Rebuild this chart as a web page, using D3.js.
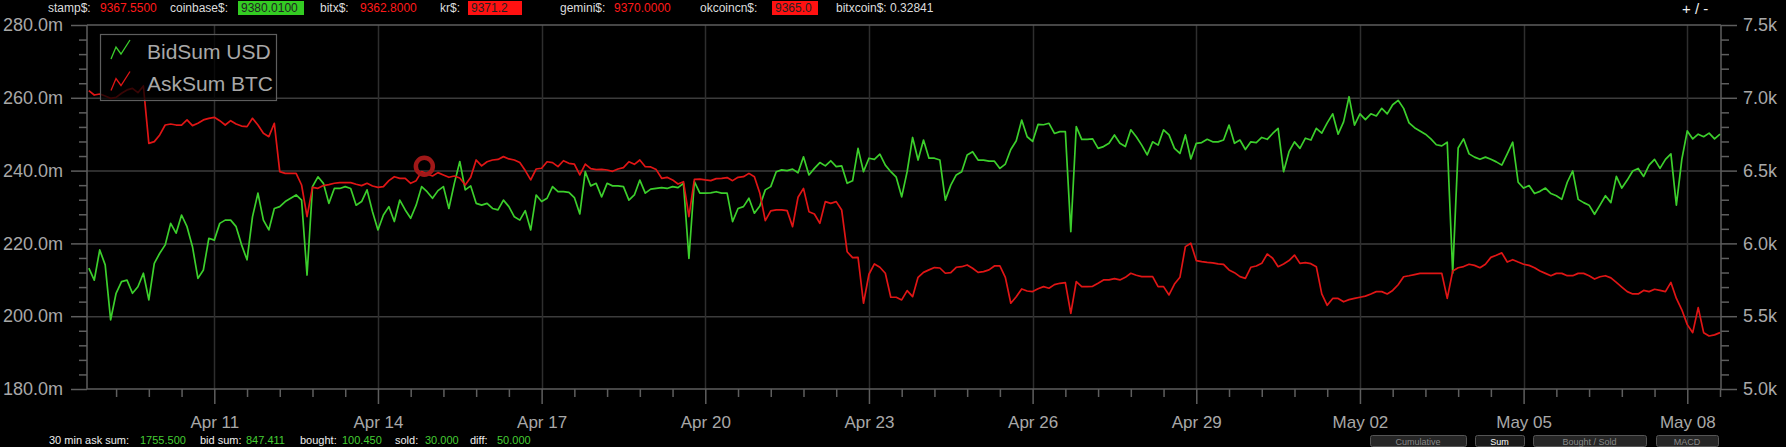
<!DOCTYPE html>
<html><head><meta charset="utf-8">
<script src="https://cdn.jsdelivr.net/npm/d3@7"></script>
<style>
html,body{margin:0;padding:0;background:#000;overflow:hidden}
svg{display:block}
text{font-family:"Liberation Sans",Arial,Helvetica,sans-serif}
</style></head><body>
<svg id="chart" width="1786" height="447"></svg>
<script>
// ---------------- DATA ----------------
const seriesNames = ["BidSum USD", "AskSum BTC"];
const seriesColors = ["#3ccf2c", "#e01515"];
const sampleStart = "2018-04-08T16:48:00Z";
const sampleStepHours = 2.4;

// BidSum USD, millions (left axis)
const bidSumUSD = [
213.2,209.9,218.2,214.1,199.0,206.3,209.5,209.9,206.3,208.1,211.8,204.5,214.5,217.3,219.6,225.5,222.8,227.8,224.6,219.1,
210.4,212.7,221.4,220.9,225.5,226.4,226.4,224.6,219.6,215.5,227.3,233.8,226.4,223.7,229.6,230.1,231.5,232.4,233.3,231.9,
211.3,235.6,238.3,236.5,231.0,235.1,235.1,235.6,235.1,230.5,231.5,234.7,228.7,223.7,227.8,230.1,226.0,231.9,229.2,226.9,
230.5,235.6,234.2,232.4,234.5,235.6,229.6,236.5,242.5,234.7,235.8,231.0,230.5,231.0,229.6,229.2,
231.9,230.1,227.3,226.4,229.0,223.7,233.3,231.5,232.4,235.6,234.2,234.2,234.0,232.6,228.1,239.7,235.8,236.5,232.8,236.5,
235.8,235.8,235.6,231.9,233.3,237.4,233.8,234.9,235.1,235.3,235.1,235.6,235.3,236.5,215.9,237.0,233.8,233.8,233.9,234.2,
233.8,233.8,226.0,229.6,230.1,232.4,228.3,230.3,234.7,235.6,239.7,240.2,240.0,240.4,239.4,243.8,238.8,240.6,242.2,241.3,
242.7,241.1,241.3,236.5,237.2,246.1,239.7,243.4,243.1,244.5,241.5,239.7,238.2,232.8,239.7,
249.1,242.9,248.4,243.4,243.4,242.9,231.9,236.0,238.8,239.7,244.3,245.2,242.9,242.9,242.6,242.6,240.6,241.8,245.8,248.2,
253.9,249.3,248.0,252.7,252.6,253.0,250.2,250.7,250.7,223.2,252.1,248.6,248.6,248.7,246.1,246.6,247.5,249.8,247.5,246.6,
251.2,249.3,247.0,244.3,247.9,247.0,251.2,249.8,246.1,244.7,249.8,243.2,247.5,247.7,248.6,247.9,247.9,248.4,252.5,247.5,
248.4,245.8,247.9,247.7,249.1,248.6,250.2,251.6,239.7,245.2,247.9,246.1,248.9,248.4,251.6,
250.3,253.1,255.6,250.0,253.4,260.3,252.5,255.6,254.0,255.6,255.0,257.1,255.6,258.1,259.3,257.1,253.1,251.8,250.9,250.0,
248.7,247.1,246.8,247.8,211.8,246.2,248.7,244.6,243.7,243.1,243.7,243.1,242.4,241.5,244.6,247.8,236.8,235.2,235.9,233.7,
234.3,235.2,233.7,233.1,232.1,236.8,239.9,232.1,231.2,230.5,228.0,230.5,233.1,231.2,238.4,235.2,237.4,239.9,240.6,238.4,
241.5,243.1,240.6,243.1,244.6,230.5,243.1,250.9,248.7,250.0,249.3,250.3,248.7,250.0
];

// AskSum BTC (right axis)
const askSumBTC = [
7049,7019,7026,7012,6996,7003,7031,7054,7065,7035,7081,6687,6699,6745,6813,6820,6813,6813,6848,6809,
6825,6848,6859,6866,6843,6813,6843,6820,6806,6802,6859,6813,6756,6733,6825,6493,6481,6481,6481,6401,
6184,6385,6378,6397,6404,6413,6417,6417,6417,6406,6397,6413,6394,6385,6390,6431,6458,6447,6447,6413,
6431,6493,6477,6463,6486,6470,6454,6463,6449,6401,6454,6573,6532,6561,6573,6577,
6596,6580,6573,6555,6500,6436,6511,6516,6561,6555,6527,6568,6550,6545,6470,6545,6513,6507,6509,6504,
6495,6511,6520,6561,6543,6573,6527,6525,6507,6447,6454,6436,6408,6424,6184,6440,6442,6436,6431,6445,
6447,6452,6431,6454,6458,6481,6458,6344,6156,6223,6230,6230,6225,6115,6317,6378,6218,6202,6138,6287,
6275,6287,6230,5943,5902,5904,5589,5788,5859,5836,5795,5630,5630,5612,5676,
5634,5767,5801,5818,5834,5831,5795,5799,5836,5840,5852,5829,5801,5806,5818,5845,5845,5767,5589,5634,
5687,5673,5669,5689,5703,5692,5717,5726,5730,5520,5737,5703,5703,5705,5726,5749,5749,5758,5749,5767,
5795,5781,5772,5772,5772,5703,5703,5646,5721,5767,5978,6001,5882,5875,5870,5866,5859,5856,5818,5799,
5772,5760,5836,5845,5863,5927,5898,5840,5859,5882,5920,5863,5868,5861,5840,
5653,5575,5622,5622,5599,5614,5622,5630,5638,5653,5669,5669,5653,5677,5716,5771,5778,5786,5794,5794,
5794,5794,5794,5622,5810,5833,5841,5857,5849,5833,5857,5904,5919,5935,5872,5888,5872,5857,5849,5833,
5810,5794,5778,5794,5794,5778,5778,5794,5794,5778,5755,5771,5778,5763,5732,5700,5669,5653,5653,5677,
5669,5685,5677,5669,5732,5622,5544,5442,5387,5559,5387,5364,5372,5387
];

const xTickDates = ["2018-04-11","2018-04-14","2018-04-17","2018-04-20","2018-04-23","2018-04-26",
                    "2018-04-29","2018-05-02","2018-05-05","2018-05-08"];
const xDomain = ["2018-04-08T16:00:00Z", "2018-05-08T14:50:00Z"];
const leftTicks = [180, 200, 220, 240, 260, 280];
const rightTicks = [5000, 5500, 6000, 6500, 7000, 7500];
const hoverPoint = {time: "2018-04-14T20:24:00Z", value: 6530};

const headerLabels = ["stamp$:", "coinbase$:", "bitx$:", "kr$:", "gemini$:", "okcoincn$:", "bitxcoin$: 0.32841"];
const headerValues = ["9367.5500", "9380.0100", "9362.8000", "9371.2", "9370.0000", "9365.0", ""];
const headerValueStyles = ["red", "greenbox", "red", "redbox", "red", "redbox", "none"];
const footerLabels = ["30 min ask sum:", "bid sum:", "bought:", "sold:", "diff:"];
const footerValues = ["1755.500", "847.411", "100.450", "30.000", "50.000"];
const buttonLabels = ["Cumulative", "Sum", "Bought / Sold", "MACD"];

// ---------------- CHART ----------------
const W = 1786, H = 447;
const M = {left: 87, right: 1721, top: 25, bottom: 389};
const svg = d3.select("#chart");
svg.append("rect").attr("width", W).attr("height", H).attr("fill", "#000");

const iso = d3.utcParse("%Y-%m-%dT%H:%M:%SZ");
const dayP = d3.utcParse("%Y-%m-%d");
const x = d3.scaleUtc().domain(xDomain.map(iso)).range([M.left, M.right]);
const yL = d3.scaleLinear().domain([180, 280]).range([M.bottom, M.top]);
const yR = d3.scaleLinear().domain([5000, 7500]).range([M.bottom, M.top]);

const t0 = iso(sampleStart).getTime();
const stepMs = sampleStepHours * 3600e3;
const bidData = bidSumUSD.map((v, i) => ({t: new Date(t0 + i * stepMs), v}));
const askData = askSumBTC.map((v, i) => ({t: new Date(t0 + i * stepMs), v}));
const majorDates = xTickDates.map(dayP);

// grid
const grid = svg.append("g");
grid.selectAll(".hg").data(leftTicks.slice(1, -1)).join("line")
  .attr("x1", M.left).attr("x2", M.right)
  .attr("y1", d => yL(d) + 0.5).attr("y2", d => yL(d) + 0.5)
  .attr("stroke", "#3c3c3c").attr("stroke-width", 1.5);
grid.selectAll(".vg").data(majorDates).join("line")
  .attr("x1", d => Math.round(x(d)) + 0.5).attr("x2", d => Math.round(x(d)) + 0.5)
  .attr("y1", M.top).attr("y2", M.bottom)
  .attr("stroke", "#2e2e2e").attr("stroke-width", 1.5);

// frame
const frame = svg.append("g").attr("stroke", "#5e5e5e").attr("stroke-width", 1.5);
frame.append("line").attr("x1", M.left).attr("x2", M.right).attr("y1", M.top).attr("y2", M.top);
frame.append("line").attr("x1", M.left).attr("x2", M.right).attr("y1", M.bottom).attr("y2", M.bottom);
frame.append("line").attr("x1", M.left).attr("x2", M.left).attr("y1", M.top).attr("y2", M.bottom);
frame.append("line").attr("x1", M.right).attr("x2", M.right).attr("y1", M.top).attr("y2", M.bottom);

// axes
function styleAxis(g, size) {
  g.select(".domain").remove();
  g.selectAll(".tick line").attr("stroke", "#5e5e5e").attr("stroke-width", 1.5);
  g.selectAll(".tick text").attr("fill", "#a8a8a8").attr("font-size", size)
    .attr("font-family", '"Liberation Sans", Arial, sans-serif');
  g.attr("font-size", null).attr("font-family", null);
}
const fmtL = v => v.toFixed(1) + "m";
const fmtR = v => (v / 1000).toFixed(1) + "k";

const minorL = d3.range(180, 281, 4).filter(v => v % 20 !== 0);
const minorR = d3.range(5000, 7501, 100).filter(v => v % 500 !== 0);
svg.append("g").attr("transform", `translate(${M.left},0)`)
  .call(d3.axisLeft(yL).tickValues(minorL).tickSize(8).tickFormat("")).call(g => styleAxis(g, 18));
svg.append("g").attr("transform", `translate(${M.left},0)`)
  .call(d3.axisLeft(yL).tickValues(leftTicks).tickSize(16).tickPadding(8).tickFormat(fmtL)).call(g => styleAxis(g, 18));
svg.append("g").attr("transform", `translate(${M.right},0)`)
  .call(d3.axisRight(yR).tickValues(minorR).tickSize(8).tickFormat("")).call(g => styleAxis(g, 18));
svg.append("g").attr("transform", `translate(${M.right},0)`)
  .call(d3.axisRight(yR).tickValues(rightTicks).tickSize(16).tickPadding(6).tickFormat(fmtR)).call(g => styleAxis(g, 18));

const minorStep = 0.6 * 864e5;
const a11 = majorDates[0].getTime();
const minorX = d3.range(-5, 50).filter(k => k % 5 !== 0).map(k => new Date(a11 + k * minorStep))
  .filter(d => d >= x.domain()[0] && d <= x.domain()[1]);
svg.append("g").attr("transform", `translate(0,${M.bottom})`)
  .call(d3.axisBottom(x).tickValues(minorX).tickSize(8).tickFormat("")).call(g => styleAxis(g, 17));
svg.append("g").attr("transform", `translate(0,${M.bottom})`)
  .call(d3.axisBottom(x).tickValues(majorDates).tickSize(15).tickPadding(12).tickFormat(d3.utcFormat("%b %d")))
  .call(g => styleAxis(g, 17));

// lines
svg.append("clipPath").attr("id", "clip").append("rect")
  .attr("x", M.left).attr("y", M.top).attr("width", M.right - M.left).attr("height", M.bottom - M.top);
const plot = svg.append("g").attr("clip-path", "url(#clip)");
const lineL = d3.line().x(d => x(d.t)).y(d => yL(d.v));
const lineR = d3.line().x(d => x(d.t)).y(d => yR(d.v));
plot.append("path").datum(bidData).attr("d", lineL).attr("fill", "none")
  .attr("stroke", seriesColors[0]).attr("stroke-width", 1.7).attr("stroke-linejoin", "round");
plot.append("path").datum(askData).attr("d", lineR).attr("fill", "none")
  .attr("stroke", seriesColors[1]).attr("stroke-width", 1.7).attr("stroke-linejoin", "round");

// hover marker
plot.append("circle").attr("cx", x(iso(hoverPoint.time))).attr("cy", yR(hoverPoint.value))
  .attr("r", 8.5).attr("fill", "none").attr("stroke", "#a01818").attr("stroke-width", 4.5);

// legend
const lg = svg.append("g");
lg.append("rect").attr("x", 100.5).attr("y", 34.5).attr("width", 176).attr("height", 66)
  .attr("fill", "rgba(0,0,0,0.75)").attr("stroke", "#5e5e5e").attr("stroke-width", 1.2);
seriesNames.forEach((name, i) => {
  const oy = i * 31.5;
  lg.append("path").attr("d", `M111,${59 + oy}L116,${47 + oy}L121,${54 + oy}L130,${40 + oy}`)
    .attr("fill", "none").attr("stroke", seriesColors[i]).attr("stroke-width", 1.3);
  lg.append("text").attr("x", 147).attr("y", 59 + oy).attr("fill", "#a8a8a8")
    .attr("font-size", 21).text(name);
});

// header strip (ticker line above the chart)
const head = svg.append("g").attr("font-size", 12);
const headerX = [[48, 100], [170, 238], [320, 360], [440, 468], [560, 614], [700, 772], [836, null]];
const headerW = [0, 66, 0, 54, 0, 46, 0];
const HB = 12;
headerLabels.forEach((lab, i) => {
  head.append("text").attr("x", headerX[i][0]).attr("y", HB).attr("fill", "#ddd").text(lab);
  const st = headerValueStyles[i];
  if (st === "red") {
    head.append("text").attr("x", headerX[i][1]).attr("y", HB).attr("fill", "#ff1a1a").text(headerValues[i]);
  } else if (st === "greenbox" || st === "redbox") {
    head.append("rect").attr("x", headerX[i][1]).attr("y", 1).attr("width", headerW[i]).attr("height", 14)
      .attr("fill", st === "greenbox" ? "#33cc22" : "#ff1111");
    head.append("text").attr("x", headerX[i][1] + 3).attr("y", HB).attr("fill", "#222").text(headerValues[i]);
  }
});
svg.append("text").attr("x", 1682).attr("y", 14).attr("fill", "#eee").attr("font-size", 15).text("+ / -");

// footer strip
const foot = svg.append("g").attr("font-size", 11);
const footerX = [[49, 140], [200, 246], [300, 342], [395, 425], [470, 497]];
footerLabels.forEach((lab, i) => {
  foot.append("text").attr("x", footerX[i][0]).attr("y", 444).attr("fill", "#eee").text(lab);
  foot.append("text").attr("x", footerX[i][1]).attr("y", 444).attr("fill", "#44cc33").text(footerValues[i]);
});
const btnX = [[1370, 96], [1475, 49], [1533, 113], [1656, 62]];
buttonLabels.forEach((b, i) => {
  foot.append("rect").attr("x", btnX[i][0] + 0.5).attr("y", 435.5).attr("width", btnX[i][1]).attr("height", 11)
    .attr("rx", 2).attr("fill", i === 1 ? "#1a1a1a" : "#262626").attr("stroke", "#555");
  foot.append("text").attr("x", btnX[i][0] + btnX[i][1] / 2).attr("y", 444.5).attr("text-anchor", "middle")
    .attr("font-size", 9).attr("fill", i === 1 ? "#fff" : "#888").text(b);
});
</script>
</body></html>
